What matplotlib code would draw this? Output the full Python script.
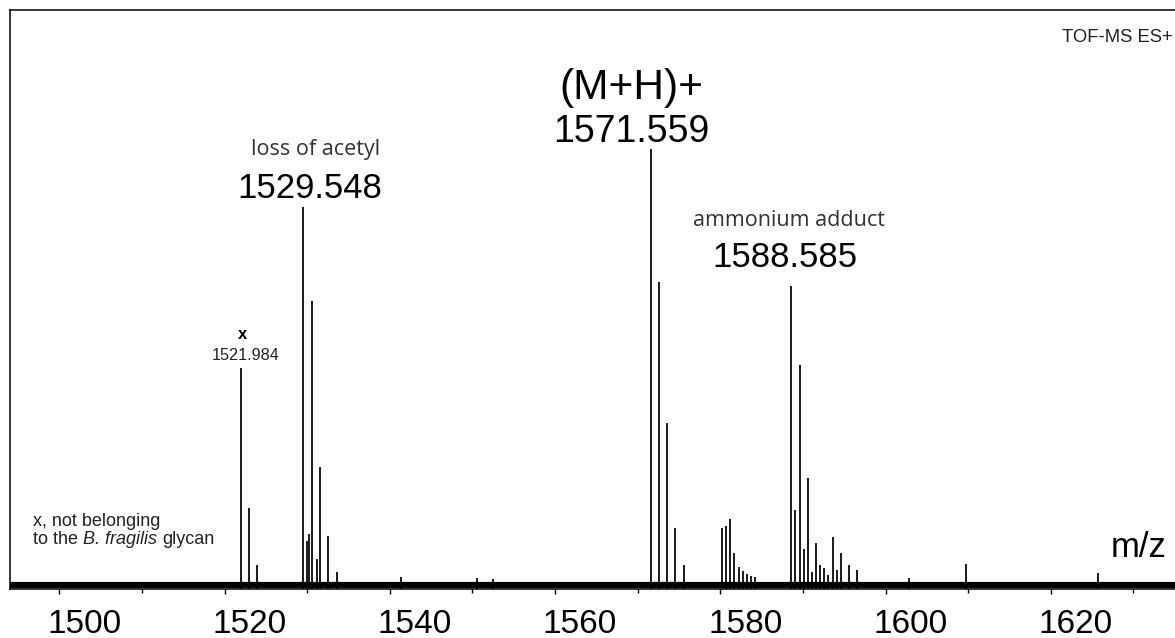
import numpy as np
import matplotlib.pyplot as plt
from matplotlib.transforms import ScaledTranslation

plt.rcParams['font.family'] = ['Liberation Sans', 'DejaVu Sans']

# Centroided peaks (m/z, relative intensity in %)
peak_mz = [1521.984, 1522.98, 1523.98,
           1529.548, 1529.95, 1530.19, 1530.55, 1531.15, 1531.55, 1532.55, 1533.55,
           1541.4, 1550.5, 1552.5,
           1571.559, 1572.56, 1573.56, 1574.56, 1575.56,
           1580.18, 1580.66, 1581.18, 1581.66, 1582.23, 1582.7, 1583.2, 1583.7, 1584.2,
           1588.585, 1589.1, 1589.59, 1590.1, 1590.6, 1591.1, 1591.6, 1592.1,
           1592.6, 1593.1, 1593.6, 1594.1, 1594.6, 1595.6, 1596.6,
           1602.9, 1609.7, 1625.7]
peak_int = [50.2, 18.4, 5.5,
            86.9, 11.0, 12.5, 65.5, 6.8, 27.7, 12.0, 3.9,
            2.8, 2.5, 2.3,
            100.0, 69.8, 37.7, 13.9, 5.5,
            13.9, 14.4, 15.9, 8.3, 5.0, 4.0, 3.5, 3.0, 2.8,
            69.0, 18.0, 51.0, 9.0, 25.2, 3.9, 10.4, 5.5,
            4.7, 3.2, 11.8, 4.3, 8.1, 5.4, 4.3,
            2.5, 5.7, 3.7]

tick_values = [1500, 1520, 1540, 1560, 1580, 1600, 1620]
tick_labels = [str(v) for v in tick_values]

fig = plt.figure(figsize=(11.75, 6.38), dpi=100)
ax = fig.add_axes([10 / 1175, 49 / 638, 1165 / 1175, 579 / 638])

# spectrum sticks and the noise floor
ax.vlines(peak_mz, 0, peak_int, color='#1a1a1a', lw=1.4)
ax.axhline(0.8, color='black', lw=4.5)

ax.set_xlim(1494.03, 1635.04)
ax.set_ylim(0, 131.7)

ax.set_xticks(tick_values)
ax.set_xticklabels(tick_labels)
ax.set_xticks(np.arange(1510, 1640, 20), minor=True)
ax.set_yticks([])
ax.tick_params(axis='x', which='major', direction='out', length=3.6, width=1.0,
               labelsize=24, pad=11)
ax.tick_params(axis='x', which='minor', direction='out', length=2.6, width=1.0)
# labels sit a bit right of their ticks in the original figure
for lab in ax.get_xticklabels():
    lab.set_transform(lab.get_transform() + ScaledTranslation(0.25, 0, fig.dpi_scale_trans))

for side in ['left', 'top', 'bottom']:
    ax.spines[side].set_linewidth(1.1)
ax.spines['right'].set_visible(False)

# peak annotations
note_font = dict(family=['Open Sans', 'DejaVu Sans'], color='#333333')
ax.text(1569.2, 111.4, '(M+H)+', ha='center', va='baseline', fontsize=30.5)
ax.text(1569.2, 101.7, '1571.559', ha='center', va='baseline', fontsize=27)
ax.text(1531.06, 98.7, 'loss of acetyl', ha='center', va='baseline', fontsize=15.5, **note_font)
ax.text(1530.26, 88.9, '1529.548', ha='center', va='baseline', fontsize=25)
ax.text(1588.26, 82.6, 'ammonium adduct', ha='center', va='baseline', fontsize=15.5, **note_font)
ax.text(1587.83, 73.2, '1588.585', ha='center', va='baseline', fontsize=25)
ax.text(1522.2, 56.8, 'x', ha='center', va='baseline', fontsize=12, fontweight='bold')
ax.text(1522.57, 52.1, '1521.984', ha='center', va='baseline', fontsize=11.7, color='#222222')

ax.text(0.9983, 0.9453, 'TOF-MS ES+', transform=ax.transAxes, ha='right', va='baseline',
        fontsize=13.3, color='#222222')
ax.text(0.993, 0.0558, 'm/z', transform=ax.transAxes, ha='right', va='baseline', fontsize=25)

# footnote, with the species name in italics
ax.text(0.0197, 0.109, 'x, not belonging', transform=ax.transAxes, ha='left', va='baseline',
        fontsize=13, color='#222222')
t1 = ax.text(0.0197, 0.0777, 'to the', transform=ax.transAxes, ha='left', va='baseline',
             fontsize=13, color='#222222')
t2 = ax.annotate('B. fragilis', xy=(1, 0), xycoords=t1, xytext=(3.6, 0),
                 textcoords='offset points', ha='left', va='bottom', fontsize=13,
                 style='italic', color='#222222')
ax.annotate('glycan', xy=(1, 0), xycoords=t2, xytext=(3.6, 0),
            textcoords='offset points', ha='left', va='bottom', fontsize=13, color='#222222')

fig.savefig('out.png', dpi=100)
